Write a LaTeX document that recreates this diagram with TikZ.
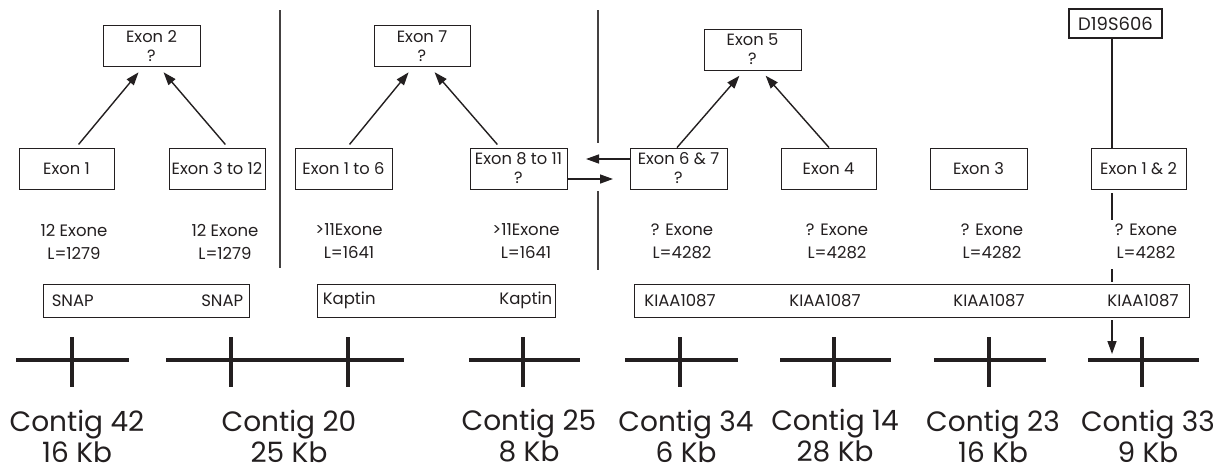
\documentclass[tikz,border=0pt]{standalone}
\usepackage{fontspec}
\setmainfont{Poppins}
\usetikzlibrary{arrows.meta,calc}
\definecolor{ink}{HTML}{231F20}
\tikzset{
 box/.style={draw=ink,line width=0.9pt,inner sep=0pt,minimum width=97pt,minimum height=41pt,align=center,font=\fontsize{16.3}{19}\selectfont,text=ink},
 gene/.style={draw=ink,line width=0.9pt,inner sep=0pt,minimum height=33pt},
 gtxt/.style={font=\fontsize{16.5}{19}\selectfont,text=ink,inner sep=0pt},
 info/.style={font=\fontsize{16.5}{23}\selectfont,align=center,text=ink,inner sep=0pt},
 ctg/.style={font=\fontsize{28}{31}\selectfont,align=center,text=ink,inner sep=0pt},
 arr/.style={draw=ink,line width=1.4pt,-{Triangle[length=13pt,width=9pt]}},
 plain/.style={draw=ink,line width=1.4pt},
 bar/.style={draw=ink,line width=4pt},
 divider/.style={draw=ink!85,line width=1.4pt},
}
\begin{document}
\begin{tikzpicture}[x=1pt,y=-1pt]
\useasboundingbox[fill=white] (0,0) rectangle (1222,472);
% exon boxes
\node[box] (ex2) at (151.5,46) {Exon 2\\?};
\node[box,minimum width=95pt] (ex1) at (66.5,168.5) {Exon 1};
\node[box,minimum width=96pt] (ex312) at (217,168.5) {Exon 3 to 12};
\node[box] (ex16) at (343.5,168.5) {Exon 1 to 6};
\node[box,minimum width=96pt] (ex7) at (422,46) {Exon 7\\?};
\node[box] (ex811) at (518.5,168.5) {Exon 8 to 11\\?};
\node[box] (ex67) at (678.5,168.5) {Exon 6 \& 7\\?};
\node[box] (ex5) at (752.5,49.5) {Exon 5\\?};
\node[box,minimum width=95pt] (ex4) at (828.5,168.5) {Exon 4};
\node[box] (ex3) at (978.5,168.5) {Exon 3};
\node[box,minimum width=95pt] (ex12) at (1138.5,168.5) {Exon 1 \& 2};
\node[box,line width=2pt,minimum width=93pt,minimum height=29pt,font=\fontsize{18}{20}\selectfont] (d19) at (1115.5,23.5) {D19S606};
% tree arrows
\draw[arr,shorten <=4pt,shorten >=7pt] ([xshift=9.5pt]ex1.north) -- ([xshift=-8.5pt]ex2.south);
\draw[arr,shorten <=4pt,shorten >=7pt] ([xshift=11pt]ex312.north) -- ([xshift=7.5pt]ex2.south);
\draw[arr,shorten <=4pt,shorten >=7pt] ([xshift=3.5pt]ex16.north) -- ([xshift=-9pt]ex7.south);
\draw[arr,shorten <=4pt,shorten >=7pt] ([xshift=-18.5pt]ex811.north) -- ([xshift=8pt]ex7.south);
\draw[arr,shorten >=7pt] ([xshift=-1.5pt]ex67.north) -- ([xshift=-8.5pt]ex5.south);
\draw[arr,shorten >=7pt] ([xshift=0.5pt]ex4.north) -- ([xshift=8.5pt]ex5.south);
% side arrows
\coordinate (la) at (586,159);
\coordinate (ra) at (613,179);
\draw[arr] (ex67.west |- la) -- (la);
\draw[arr] (ex811.east |- ra) -- (ra);
% dividers
\draw[divider] (280,10) -- (280,268);
\draw[divider] (598,10) -- (598,143);
\draw[divider] (598,191) -- (598,270);
% info texts
\node[info] (i1) at (74,241.5) {12 Exone\\L=1279};
\node[info] (i2) at (225,241.5) {12 Exone\\L=1279};
\node[info] (i3) at (349,241.5) {>11Exone\\L=1641};
\node[info] (i4) at (526,241.5) {>11Exone\\L=1641};
\node[info] (i5) at (682,241.5) {? Exone\\L=4282};
\node[info] (i6) at (837,241.5) {? Exone\\L=4282};
\node[info] (i7) at (992,241.5) {? Exone\\L=4282};
\node[info] (i8) at (1146,241.5) {? Exone\\L=4282};
% gene boxes
\node[gene,minimum width=206pt] (snap) at (146,300.5) {};
\node[gtxt,anchor=west] (snapA) at ([xshift=9pt]snap.west) {SNAP};
\node[gtxt,anchor=east] (snapB) at ([xshift=-6pt]snap.east) {SNAP};
\node[gene,minimum width=238pt] (kap) at (436,300.5) {};
\node[gtxt,anchor=west] (kapA) at ([xshift=6pt]kap.west) {Kaptin};
\node[gtxt,anchor=east] (kapB) at ([xshift=-3pt]kap.east) {Kaptin};
\node[gene,minimum width=555pt] (kiaa) at (911.5,300.5) {};
\node[gtxt] (k1) at (680,300.5) {KIAA1087};
\node[gtxt] (k2) at (825,300.5) {KIAA1087};
\node[gtxt] (k3) at (989,300.5) {KIAA1087};
\node[gtxt] (k4) at (1143,300.5) {KIAA1087};
% D19S606 line
\coordinate (m) at (1112,0);
\coordinate (c33in) at (1112,354);
\draw[plain] (d19.south -| m) -- (ex12.north -| m);
\draw[plain] ([yshift=-4pt]ex12.south -| m) -- ([yshift=4pt]i8.north -| m);
\draw[plain] ([yshift=-10pt]i8.south -| m) -- ([yshift=2pt]kiaa.north -| m);
\draw[arr] ([yshift=-3pt]kiaa.south -| m) -- (c33in);
% contig bars
\draw[bar] (16,360) -- (129,360);   \draw[bar] (72,337) -- (72,387);
\draw[bar] (166,360) -- (404,360);  \draw[bar] (231,337) -- (231,387); \draw[bar] (348,337) -- (348,387);
\draw[bar] (469,360) -- (580,360);  \draw[bar] (523,337) -- (523,387);
\draw[bar] (625,360) -- (738,360);  \draw[bar] (680,337) -- (680,387);
\draw[bar] (780,360) -- (891,360);  \draw[bar] (834,337) -- (834,387);
\draw[bar] (934,360) -- (1046,360); \draw[bar] (989,337) -- (989,387);
\draw[bar] (1088,360) -- (1199,360);\draw[bar] (1142,337) -- (1142,387);
% contig labels
\node[ctg] (c42) at (77,436) {Contig 42\\16 Kb};
\node[ctg] (c20) at (289,436) {Contig 20\\25 Kb};
\node[ctg] (c25) at (529,436) {Contig 25\\8 Kb};
\node[ctg] (c34) at (686,436) {Contig 34\\6 Kb};
\node[ctg] (c14) at (835,436) {Contig 14\\28 Kb};
\node[ctg] (c23) at (993,436) {Contig 23\\16 Kb};
\node[ctg] (c33) at (1148,436) {Contig 33\\9 Kb};
\end{tikzpicture}
\end{document}
